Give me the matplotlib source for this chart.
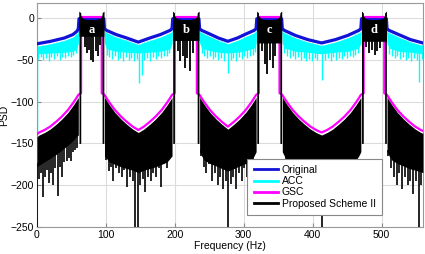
import matplotlib.pyplot as plt
from matplotlib.lines import Line2D
import numpy as np

plt.rcParams['font.family'] = ['Liberation Sans', 'DejaVu Sans']

# band edges (Hz) of the four passbands a, b, c, d
band_lo = [61, 197, 319, 471]
band_hi = [97, 235, 355, 507]
band_names = ['a', 'b', 'c', 'd']

# Original (blue)
orig_f = [0, 20, 40, 52, 58, 60, 61, 97, 98, 101, 115, 130, 147, 164, 179, 193, 196, 197,
          235, 236, 239, 250, 263, 277, 291, 304, 315, 318, 319, 355, 356, 359, 375, 393,
          413, 433, 451, 467, 470, 471, 507, 508, 511, 525, 542, 560]
orig_db = [-31, -28, -24, -20, -16, -13, -1, -1, -13, -15, -20, -24, -29, -24, -20, -15, -13, -1,
           -1, -13, -15, -19, -24, -28, -24, -19, -15, -13, -1, -1, -13, -15, -21, -26,
           -30, -26, -21, -15, -13, -1, -1, -13, -15, -20, -26, -30]

# ACC (cyan) dense band: upper and lower edge on the same grid
acc_hi = [-34, -31, -27, -23, -19, -16, -2, -2, -16, -18, -23, -27, -32, -27, -23, -18, -16, -2,
          -2, -16, -18, -22, -27, -31, -27, -22, -18, -16, -2, -2, -16, -18, -24, -29,
          -33, -29, -24, -18, -16, -2, -2, -16, -18, -23, -29, -33]
acc_lo = [-43, -42, -41, -40, -37, -30, -10, -10, -30, -37, -40, -41, -42, -41, -40, -37, -30, -10,
          -10, -30, -36, -39, -41, -42, -41, -39, -36, -30, -10, -10, -30, -36, -40, -41,
          -43, -41, -40, -36, -30, -10, -10, -30, -36, -40, -41, -43]
# ACC downward spikes
acc_spk_f = [0, 2, 6, 9, 13, 17, 21, 25, 29, 33, 37, 41, 45, 49, 53, 57,
             101, 105, 109, 113, 117, 121, 125, 129, 133, 137, 141, 145, 148, 152, 156, 160,
             164, 168, 172, 176, 180, 184, 188, 192,
             239, 243, 247, 251, 255, 259, 263, 267, 271, 277, 281, 285, 289, 293, 297, 301,
             305, 309, 313, 316,
             359, 363, 367, 371, 375, 379, 383, 387, 391, 395, 399, 403, 407, 414, 418, 422,
             426, 430, 434, 438, 442, 446, 450, 454, 458, 462, 466,
             511, 515, 519, 523, 527, 531, 535, 539, 543, 547, 551, 555, 559]
acc_spk_db = [-140, -49, -47, -50, -48, -51, -47, -49, -46, -50, -47, -48, -45, -47, -44, -42,
              -44, -47, -49, -46, -50, -48, -52, -47, -50, -48, -51, -49, -78, -68, -50, -48,
              -51, -47, -49, -46, -48, -45, -46, -42,
              -42, -46, -48, -45, -49, -47, -50, -48, -51, -66, -50, -48, -51, -47, -49, -46,
              -48, -45, -44, -41,
              -42, -46, -48, -45, -49, -47, -50, -48, -51, -49, -52, -48, -50, -74, -50, -48,
              -52, -47, -50, -48, -49, -46, -48, -45, -47, -44, -42,
              -43, -46, -48, -45, -49, -47, -50, -48, -51, -48, -50, -77, -49]

# GSC (magenta)
gsc_f = [0, 3, 11, 19, 28, 36, 45, 53, 57, 60, 64, 64, 94, 94,
         98, 101, 105, 113, 122, 130, 139, 147, 155, 164, 172, 181, 189, 193, 196, 200, 200, 232, 232,
         236, 239, 243, 251, 260, 268, 277, 286, 294, 303, 311, 315, 318, 322, 322, 352, 352,
         356, 359, 363, 371, 380, 388, 397, 405, 413, 421, 429, 438, 446, 455, 463, 467, 470,
         474, 474, 504, 504,
         508, 511, 515, 523, 532, 540, 549, 557, 560]
gsc_db = [-139, -137, -134, -130, -124, -118, -110, -101, -96, -92, -90, 1, 1, -90,
          -92, -96, -101, -110, -118, -124, -130, -134, -130, -124, -118, -110, -101, -96, -92, -90, 1, 1, -90,
          -92, -96, -101, -110, -118, -124, -130, -124, -118, -110, -101, -96, -92, -90, 1, 1, -90,
          -92, -96, -101, -110, -118, -124, -130, -134, -137, -134, -130, -124, -118, -110, -101, -96, -92,
          -90, 1, 1, -90,
          -92, -96, -101, -110, -118, -124, -130, -134, -135]

# Proposed Scheme II (black) outside the bands: top and bottom of the dense body
prop_f = [[0, 3, 11, 19, 28, 36, 45, 53, 57, 60],
          [98, 101, 105, 113, 122, 130, 139, 147, 155, 164, 172, 181, 189, 193, 196],
          [236, 239, 243, 251, 260, 268, 277, 286, 294, 303, 311, 315, 318],
          [356, 359, 363, 371, 380, 388, 397, 405, 413, 421, 429, 438, 446, 455, 463, 467, 470],
          [508, 511, 515, 523, 532, 540, 549, 557, 560]]
prop_top = [[-142, -140, -137, -133, -127, -121, -113, -104, -99, -95],
            [-95, -99, -104, -113, -121, -127, -133, -137, -133, -127, -121, -113, -104, -99, -95],
            [-95, -99, -104, -113, -121, -127, -133, -127, -121, -113, -104, -99, -95],
            [-95, -99, -104, -113, -121, -127, -133, -137, -140, -137, -133, -127, -121, -113, -104, -99, -95],
            [-95, -99, -104, -113, -121, -127, -133, -137, -138]]
prop_bot = [[-178, -176, -172, -168, -163, -158, -152, -146, -142, -140],
            [-165, -168, -172, -175, -178, -180, -182, -185, -182, -180, -178, -175, -172, -168, -165],
            [-160, -165, -170, -174, -177, -180, -183, -180, -177, -174, -170, -165, -160],
            [-160, -165, -170, -174, -177, -180, -182, -184, -186, -184, -182, -180, -177, -174, -170, -165, -160],
            [-160, -165, -170, -174, -177, -180, -182, -184, -185]]
prop_spk = [
    [(0, -250), (3, -193), (6, -185), (9, -214), (12, -190), (15, -182), (17, -197), (20, -185),
     (23, -200), (26, -180), (30, -213), (33, -178), (36, -190), (39, -172), (43, -171),
     (46, -168), (49, -171), (52, -160), (55, -158), (58, -155)],
    [(100, -170), (104, -183), (108, -178), (111, -195), (115, -180), (119, -185), (123, -190),
     (127, -182), (131, -202), (135, -190), (139, -195), (142, -250), (146, -250), (150, -200),
     (154, -192), (157, -208), (161, -190), (165, -195), (169, -185), (173, -190), (177, -180),
     (180, -202), (184, -175), (188, -180), (192, -165), (195, -160)],
    [(238, -165), (242, -178), (246, -185), (250, -175), (254, -195), (258, -185), (262, -200),
     (266, -190), (270, -205), (274, -195), (277, -250), (281, -198), (285, -190), (289, -205),
     (293, -185), (297, -195), (301, -180), (305, -190), (309, -175), (313, -170), (316, -160)],
    [(358, -160), (362, -175), (366, -185), (370, -180), (374, -195), (378, -185), (382, -200),
     (386, -190), (390, -198), (394, -192), (398, -205), (402, -195), (406, -200), (410, -210),
     (414, -250), (418, -205), (422, -195), (426, -200), (430, -190), (434, -198), (438, -185),
     (442, -195), (446, -180), (450, -190), (454, -178), (458, -185), (462, -172), (466, -165),
     (469, -160)],
    [(510, -165), (514, -180), (518, -190), (522, -200), (526, -185), (530, -205), (534, -190),
     (538, -200), (542, -195), (546, -210), (550, -195), (555, -250), (558, -200)]]

# Proposed Scheme II inside the bands: horn-shaped top, body floor and spikes
horn_d = [0, 1, 3, 6, 12, 18]
horn_db = [8, 6, 2, -1, -2, -2]
band_floor = [-22, -27, -30, -28]
band_spk = [[(70, -35), (73, -42), (76, -38), (79, -50), (82, -53), (85, -40), (88, -45), (91, -33)],
            [(205, -40), (208, -52), (212, -45), (215, -60), (218, -48), (222, -64), (226, -42)],
            [(327, -40), (331, -55), (334, -67), (338, -50), (342, -60), (346, -45)],
            [(478, -35), (482, -42), (486, -38), (490, -44), (494, -40), (498, -36)]]

fig, ax = plt.subplots(figsize=(4.25, 2.54), dpi=100)
fig.subplots_adjust(left=0.087, right=0.995, bottom=0.106, top=0.989)

# ACC
ax.fill_between(orig_f, acc_hi, acc_lo, color='cyan', lw=0, zorder=2)
acc_top = np.interp(acc_spk_f, orig_f, acc_hi)
ax.vlines(acc_spk_f, acc_spk_db, acc_top, color='cyan', lw=1.0, zorder=2)

# Original
ax.plot(orig_f, orig_db, color='#1212d8', lw=2.3, zorder=3)

# GSC
ax.plot(gsc_f, gsc_db, color='magenta', lw=1.6, zorder=4)

# Proposed, outside bands
for f, top, bot, spk in zip(prop_f, prop_top, prop_bot, prop_spk):
    ax.fill_between(f, top, bot, color='black', lw=0, zorder=5)
    sf = [s[0] for s in spk]
    sd = [s[1] for s in spk]
    ax.vlines(sf, sd, np.interp(sf, f, bot) + 5, color='black', lw=1.2, zorder=5)

# Proposed, inside bands
for lo, hi, floor, spk, name in zip(band_lo, band_hi, band_floor, band_spk, band_names):
    mid = (lo + hi) / 2
    xs = [lo + d for d in horn_d if lo + d < mid] + [hi - d for d in horn_d[::-1] if hi - d > mid]
    ys = [h for d, h in zip(horn_d, horn_db) if lo + d < mid] + \
         [h for d, h in zip(horn_d[::-1], horn_db[::-1]) if hi - d > mid]
    ax.fill_between(xs, ys, floor, color='black', lw=0, zorder=5)
    # solid edge bars reaching down into the skirts
    ax.fill_between([lo, lo + 2.5], [8, 6], -150, color='black', lw=0, zorder=5)
    ax.fill_between([hi - 2.5, hi], [6, 8], -150, color='black', lw=0, zorder=5)
    sf = [s[0] for s in spk]
    sd = [s[1] for s in spk]
    ax.vlines(sf, sd, floor + 2, color='black', lw=1.3, zorder=5)
    ax.text(mid, -14, name, color='white', fontsize=9, fontweight='bold',
            family='Liberation Serif', ha='center', va='center', zorder=6)

ax.set_xlim(0, 560)
ax.set_ylim(-250, 18)
ax.set_xticks([0, 100, 200, 300, 400, 500])
ax.set_yticks([-250, -200, -150, -100, -50, 0])
ax.tick_params(direction='in', length=3, labelsize=7.5, color='#888888', pad=2)
ax.grid(True, color='#dcdcdc', lw=0.8, zorder=0)
ax.set_axisbelow(True)
for sp in ax.spines.values():
    sp.set_color('#999999')
    sp.set_linewidth(0.8)
ax.set_xlabel('Frequency (Hz)', fontsize=7.5, labelpad=1)
ax.set_ylabel('PSD', fontsize=7.5, labelpad=1)

handles = [Line2D([], [], color='#1212d8', lw=2),
           Line2D([], [], color='cyan', lw=2),
           Line2D([], [], color='magenta', lw=2),
           Line2D([], [], color='black', lw=2)]
leg = ax.legend(handles, ['Original', 'ACC', 'GSC', 'Proposed Scheme II'],
                loc='lower left', bbox_to_anchor=(0.532, 0.031), fontsize=7.5,
                fancybox=False, framealpha=1, edgecolor='#888888', labelspacing=0.12,
                handlelength=2.3, handletextpad=0.4, borderpad=0.6)
leg.set_zorder(10)
leg.get_frame().set_linewidth(0.8)

plt.savefig('out.png', dpi=100)
